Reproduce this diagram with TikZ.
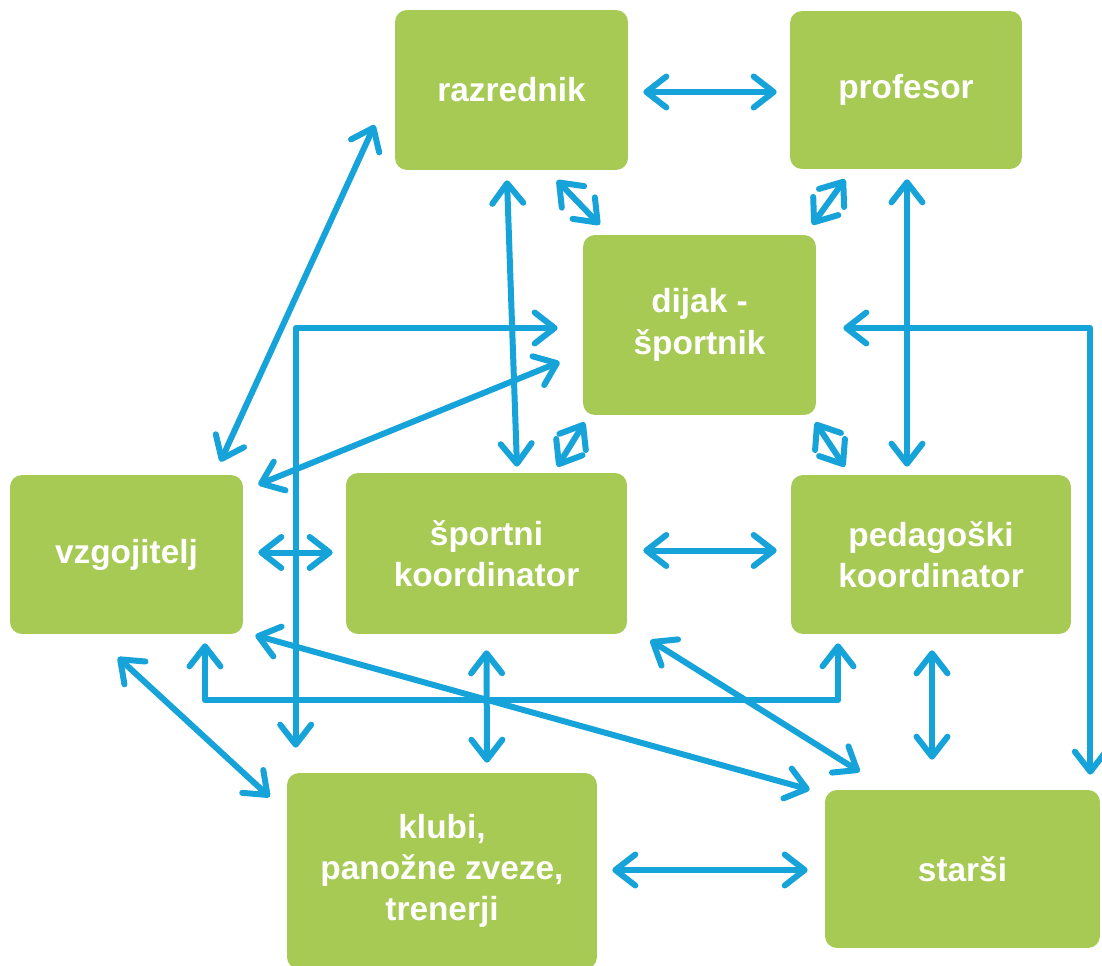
\documentclass[tikz,border=0pt]{standalone}
\usepackage{fontspec}
\setmainfont{Liberation Sans}
\usepackage{tikz}
\usetikzlibrary{arrows.meta,calc}
\definecolor{leafgreen}{RGB}{166,202,83}
\definecolor{skyblue}{RGB}{22,163,217}

\begin{document}
\begin{tikzpicture}[x=0.02cm, y=-0.02cm,
    box/.style={fill=leafgreen, rounded corners=0.24cm, align=center, text=white,
                font=\fontsize{19}{23.5}\selectfont\bfseries, inner sep=2pt},
    arr/.style={{Straight Barb[length=0.4cm, width=0.62cm, round]}-{Straight Barb[length=0.4cm, width=0.62cm, round]},
                draw=skyblue, line width=0.12cm, line cap=round, line join=round}]

    \useasboundingbox (0,0) rectangle (1102,966);

    \node[box, minimum width=4.66cm, minimum height=3.2cm] (raz) at (511.5,90) {razrednik};
    \node[box, minimum width=4.64cm, minimum height=3.16cm] (prof) at (906,90) {profesor};
    \node[box, minimum width=4.66cm, minimum height=3.6cm] (dijak) at (699.5,325) {dijak -\\športnik};
    \node[box, minimum width=4.66cm, minimum height=3.18cm] (vzg) at (126.5,554.5) {vzgojitelj};
    \node[box, minimum width=5.62cm, minimum height=3.22cm] (sport) at (486.5,553.5) {športni\\koordinator};
    \node[box, minimum width=5.6cm, minimum height=3.18cm] (ped) at (931,554.5) {pedagoški\\koordinator};
    \node[box, minimum width=6.2cm, minimum height=3.92cm] (klubi) at (442,871) {klubi,\\panožne zveze,\\trenerji};
    \node[box, minimum width=5.5cm, minimum height=3.16cm] (starsi) at (962.5,869) {starši};

    % top row
    \draw[arr] ([shift={(15,2)}]raz.east) -- ([shift={(-13,2)}]prof.west);
    \draw[arr] ([shift={(-20,35)}]raz.west) -- ([shift={(-23,-13)}]vzg.north east);
    \draw[arr] ([shift={(-4.5,10)}]raz.south) -- ([shift={(30.5,-6)}]sport.north);
    \draw[arr] ([shift={(45.5,10)}]raz.south) -- ([shift={(17,-10)}]dijak.north west);
    \draw[arr] ([shift={(-61,10)}]prof.south) -- ([shift={(-4,-10)}]dijak.north east);
    \draw[arr] ([shift={(1,10)}]prof.south) -- ([shift={(-24,-8)}]ped.north);

    % dijak - sportnik
    \draw[arr] ([shift={(2,7)}]dijak.south west) -- ([shift={(-70,-6)}]sport.north east);
    \draw[arr] ([shift={(-1,7)}]dijak.south east) -- ([shift={(54,-8)}]ped.north west);
    \draw[arr] ([shift={(-23,37)}]dijak.west) -- ([shift={(15,10)}]vzg.north east);
    \draw[arr] ([shift={(-25,3)}]dijak.west) -| ([shift={(9,-25)}]klubi.north west);
    \draw[arr] ([shift={(27,3)}]dijak.east) -| ([shift={(-10,-15)}]starsi.north east);

    % middle row
    \draw[arr] ([shift={(15,-2)}]vzg.east) -- ([shift={(-13,-1)}]sport.west);
    \draw[arr] ([shift={(16,-3)}]sport.east) -- ([shift={(-14,-4)}]ped.west);
    \draw[arr] ([shift={(78.5,9)}]vzg.south) -- ++(0,57) -| ([shift={(-93,9)}]ped.south);

    % to the bottom row
    \draw[arr] ([shift={(-8.5,23)}]vzg.south) -- ([shift={(-17,-74)}]klubi.west);
    \draw[arr] ([shift={(12,1)}]vzg.south east) -- ([shift={(-15,0)}]starsi.north west);
    \draw[arr] ([shift={(0,16)}]sport.south) -- ([shift={(45,-10)}]klubi.north);
    \draw[arr] ([shift={(23,6)}]sport.south east) -- ([shift={(35,-18)}]starsi.north west);
    \draw[arr] ([shift={(1,16)}]ped.south) -- ([shift={(-30.5,-30)}]starsi.north);
    \draw[arr] ([shift={(15,-1)}]klubi.east) -- ([shift={(-17,1)}]starsi.west);
\end{tikzpicture}
\end{document}
